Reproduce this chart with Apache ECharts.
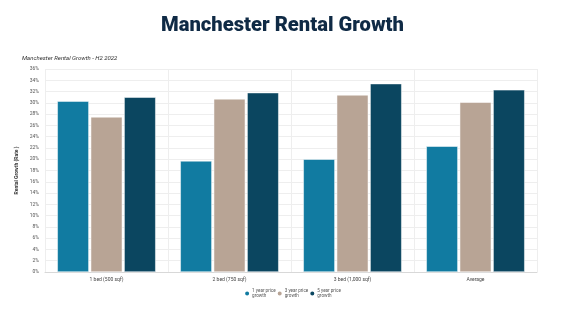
<!DOCTYPE html>
<html>
<head>
<meta charset="utf-8">
<script src="https://cdn.jsdelivr.net/npm/echarts@6/dist/echarts.min.js"></script>
<style>
  html, body { margin: 0; padding: 0; background: #ffffff; }
  #chart { width: 584px; height: 328px; }
</style>
</head>
<body>
<div id="chart"></div>
<script>
// Property types along the x axis
const categories = ['1 bed (500 sqf)', '2 bed (750 sqf)', '3 bed (1,000 sqf)', 'Average'];

// Rental growth (%) per period
const growth1yr = [30.3, 19.7, 20.0, 22.3];
const growth3yr = [27.5, 30.7, 31.4, 30.1];
const growth5yr = [31.0, 31.8, 33.4, 32.3];

const seriesNames = ['1 year price\ngrowth', '3 year price\ngrowth', '5 year price\ngrowth'];
const seriesColors = ['#117ba1', '#b8a495', '#0b4660'];

const chart = echarts.init(document.getElementById('chart'));

const font = 'Roboto, "Open Sans", sans-serif';

chart.setOption({
  animation: false,
  backgroundColor: '#ffffff',
  title: [
    {
      text: 'Manchester Rental Growth',
      left: 156,
      top: 11,
      textStyle: { fontFamily: font, fontWeight: 900, fontSize: 20.2, color: '#0f2a45' }
    },
    {
      text: 'Manchester Rental Growth - H2 2022',
      left: 17,
      top: 50,
      textStyle: { fontFamily: font, fontStyle: 'italic', fontWeight: 'normal', fontSize: 6, color: '#333333' }
    }
  ],
  grid: { left: 45, right: 47, top: 69, bottom: 56, containLabel: false },
  legend: {
    bottom: 24,
    left: 'center',
    icon: 'circle',
    itemWidth: 6,
    itemHeight: 6,
    itemGap: 0,
    textStyle: { fontFamily: font, fontSize: 4.6, color: '#555555', lineHeight: 5.5, padding: [0, 0, 0, -3] },
    data: seriesNames
  },
  xAxis: {
    type: 'category',
    data: categories,
    axisLine: { lineStyle: { color: '#d8d8d8' } },
    axisTick: { show: false },
    splitLine: { show: true, lineStyle: { color: '#eeeeee' } },
    axisLabel: { fontFamily: font, fontSize: 5, color: '#444444', margin: 5 }
  },
  yAxis: {
    type: 'value',
    min: 0,
    max: 36,
    interval: 2,
    name: 'Rental Growth (Rate )',
    nameLocation: 'middle',
    nameGap: 17,
    nameTextStyle: { fontFamily: font, fontSize: 5, color: '#333333', fontWeight: 'bold' },
    axisLine: { show: false },
    axisTick: { show: false },
    splitLine: { lineStyle: { color: '#eeeeee' } },
    axisLabel: { fontFamily: font, fontSize: 5, color: '#555555', margin: 6, formatter: '{value}%' }
  },
  series: [growth1yr, growth3yr, growth5yr].map((vals, i) => ({
    name: seriesNames[i],
    type: 'bar',
    data: vals,
    barGap: '6%',
    barCategoryGap: '20%',
    itemStyle: { color: seriesColors[i], borderColor: '#ffffff', borderWidth: 0.5 }
  }))
});
</script>
</body>
</html>
